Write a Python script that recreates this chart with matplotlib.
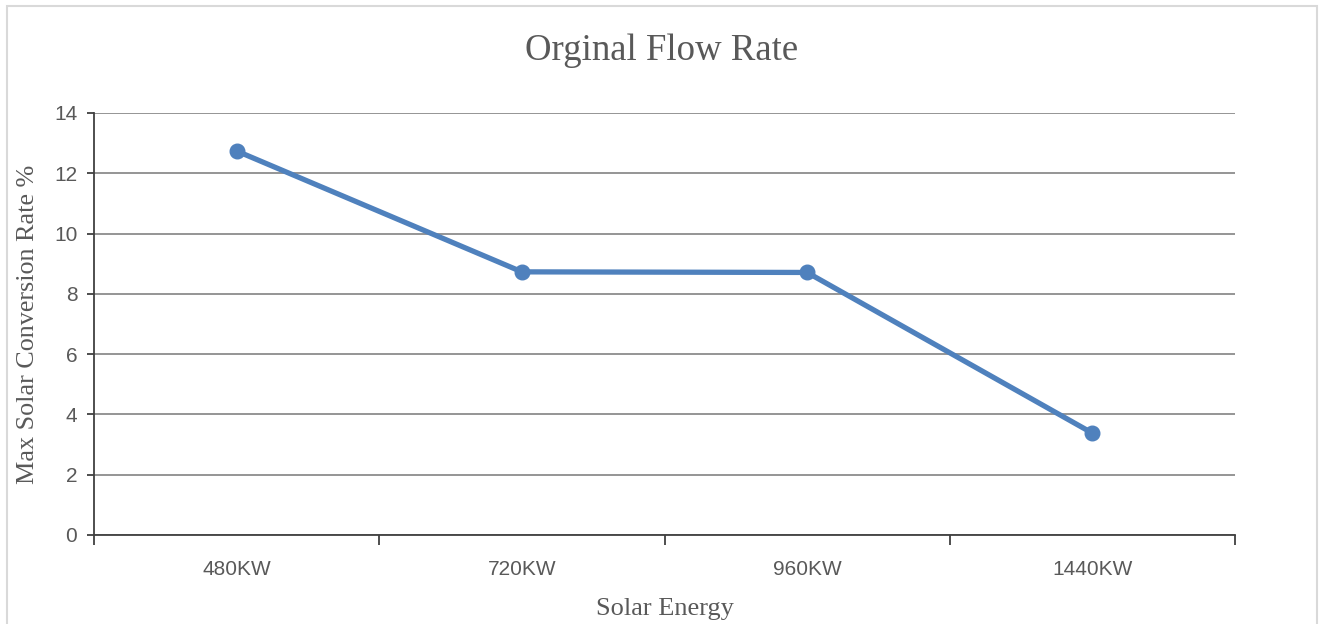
import matplotlib
matplotlib.use('Agg')
import matplotlib.pyplot as plt
from matplotlib.patches import Rectangle

# Max solar conversion rate at each solar energy level
categories = ['480KW', '720KW', '960KW', '1440KW']
conversion_rate = [12.74, 8.73, 8.71, 3.38]
y_ticks = [0, 2, 4, 6, 8, 10, 12, 14]

fig = plt.figure(figsize=(13.2, 6.24), dpi=100)
ax = fig.add_axes([94 / 1320, 89 / 624, 1141 / 1320, 422 / 624])

x = list(range(len(categories)))
ax.plot(x, conversion_rate, color='#4F81BD', linewidth=3.8, marker='o',
        markersize=10.5, solid_capstyle='round', zorder=3)

ax.set_xlim(-0.5, len(categories) - 0.5)
ax.set_ylim(0, 14)
ax.set_yticks(y_ticks)
ax.grid(axis='y', color='#8c8c8c', linewidth=1.3, zorder=1)
ax.set_axisbelow(True)

# category labels sit between the boundary ticks
ax.set_xticks(x)
ax.set_xticklabels(categories)
ax.set_xticks([i - 0.5 for i in range(len(categories) + 1)], minor=True)
ax.tick_params(axis='x', which='major', length=0, pad=18,
               labelsize=15, labelcolor='#595959')
ax.tick_params(axis='x', which='minor', length=7, width=1.3, color='#404040')
ax.tick_params(axis='y', length=5, width=1.3, color='#404040', pad=7,
               labelsize=15, labelcolor='#595959')
for lbl in ax.get_xticklabels() + ax.get_yticklabels():
    lbl.set_family('Liberation Sans')

for side in ['top', 'right']:
    ax.spines[side].set_visible(False)
for side in ['left', 'bottom']:
    ax.spines[side].set_color('#404040')
    ax.spines[side].set_linewidth(1.3)

serif = 'Liberation Serif'
ax.set_xlabel('Solar Energy', family=serif, fontsize=19, color='#595959',
              labelpad=14)
ax.set_ylabel('Max Solar Conversion Rate %', family=serif, fontsize=18.8,
              color='#595959', labelpad=11)
fig.text(662 / 1320, 1 - 51 / 624, 'Orginal Flow Rate', family=serif,
         fontsize=26.5, color='#595959', ha='center', va='center')

# chart area frame
fig.add_artist(Rectangle((7 / 1320, -0.05), 1310 / 1320, 1.05 - 6 / 624,
                         transform=fig.transFigure, fill=False,
                         edgecolor='#d9d9d9', linewidth=1.5))

fig.savefig('out.png', dpi=100)
